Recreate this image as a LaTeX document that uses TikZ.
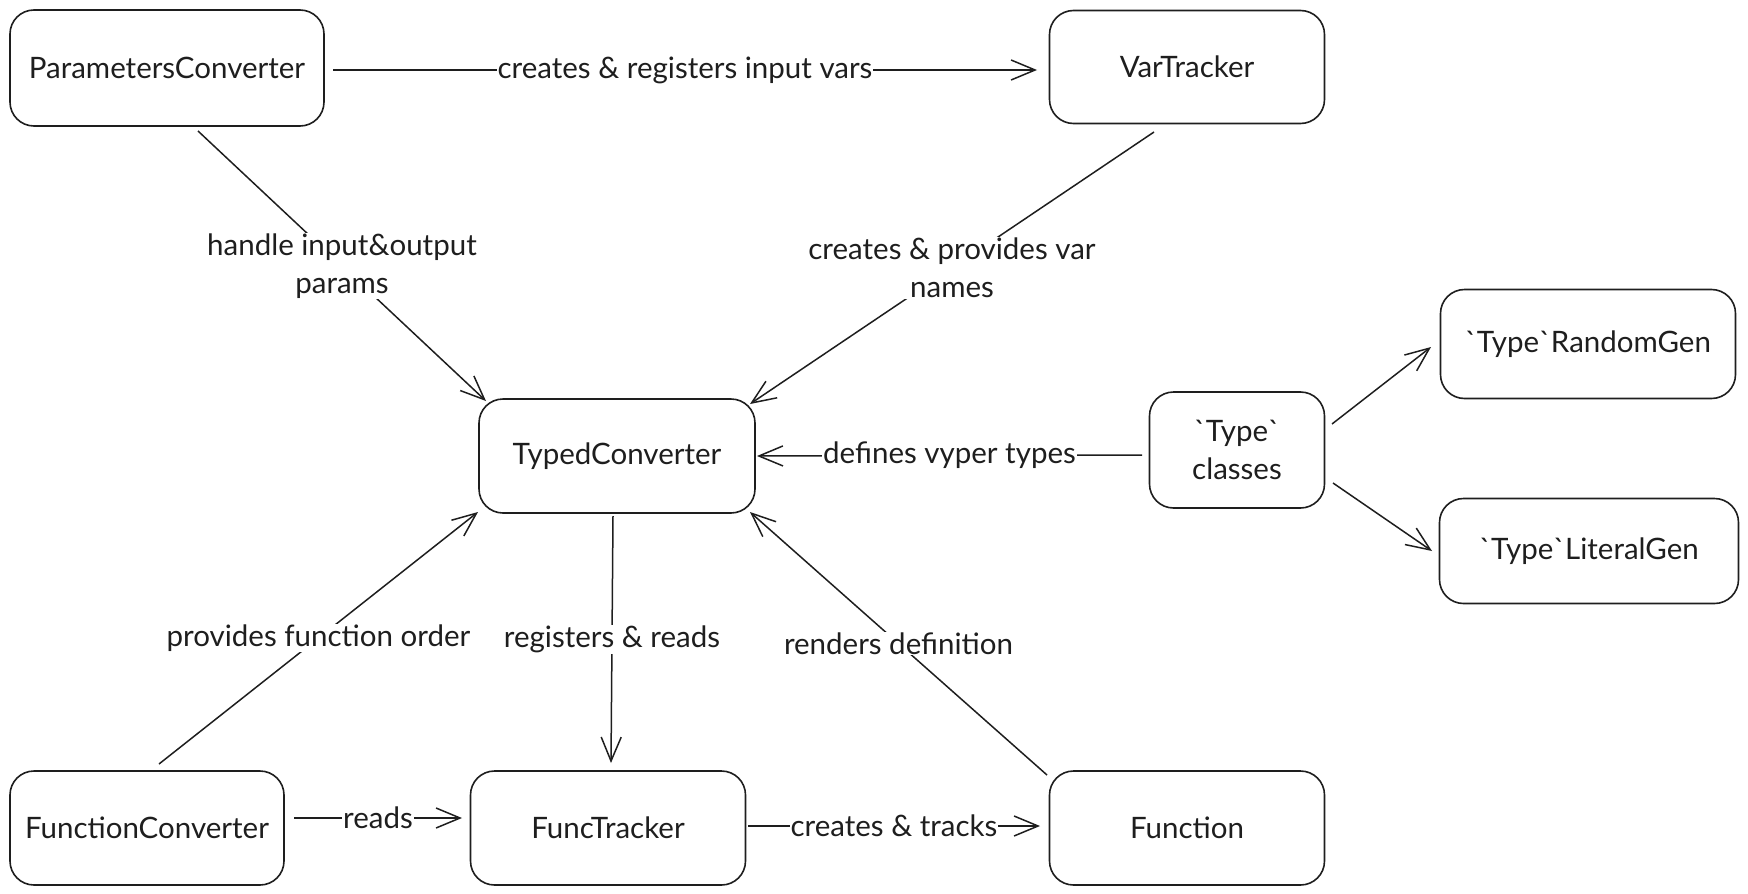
\documentclass[tikz,border=0pt]{standalone}
\usepackage{fontspec}
\setmainfont{Lato}
\usetikzlibrary{arrows.meta}
\definecolor{inkgray}{RGB}{30,30,30}
\newcommand{\bq}{\textasciigrave}

\begin{document}
\begin{tikzpicture}[x=1pt, y=-1pt,
    block/.style={draw=inkgray, line width=1.6pt, rounded corners=24pt, align=center, font=\fontsize{29.5}{38}\selectfont, text=inkgray},
    flow/.style={draw=inkgray, line width=1.5pt, -{Straight Barb[length=24pt,width=20pt,line width=1.5pt]}},
    lbl/.style={midway, fill=white, inner sep=1pt, align=center, font=\fontsize{29.5}{38}\selectfont, text=inkgray}]
                \useasboundingbox (0,0) rectangle (1748,894);

                % Converters and trackers
                \node[block, minimum width=314pt, minimum height=116pt] (pc) at (167,68) {ParametersConverter};
                \node[block, minimum width=275pt, minimum height=113pt] (vt) at (1187,67) {VarTracker};
                \node[block, minimum width=276pt, minimum height=114pt] (tc) at (617,456) {TypedConverter};
                \node[block, minimum width=175pt, minimum height=116pt] (tcls) at (1237,450) {\bq Type\bq\\classes};
                \node[block, minimum width=295pt, minimum height=109pt] (rg) at (1588,344) {\bq Type\bq RandomGen};
                \node[block, minimum width=299pt, minimum height=105pt] (lg) at (1589,551) {\bq Type\bq LiteralGen};
                \node[block, minimum width=274pt, minimum height=114pt] (fc) at (147,828) {FunctionConverter};
                \node[block, minimum width=275pt, minimum height=114pt] (ft) at (608,828) {FuncTracker};
                \node[block, minimum width=275pt, minimum height=114pt] (fn) at (1187,828) {Function};

                % Connections
                \draw[flow] ([shift={(166,2)}]pc.center) -- ([shift={(-150,3)}]vt.center) node[lbl] {creates \& registers input vars};
                \draw[flow] ([shift={(31,63)}]pc.center) -- ([shift={(-131,-55)}]tc.center) node[lbl] {handle input\&output\\params};
                \draw[flow] ([shift={(-33,65)}]vt.center) -- ([shift={(133,-52)}]tc.center) node[lbl] {creates \& provides var\\names};
                \draw[flow] ([shift={(-95,5)}]tcls.center) -- ([shift={(140,0)}]tc.center) node[lbl] {defines vyper types};
                \draw[flow] ([shift={(95,-26)}]tcls.center) -- ([shift={(-157,3)}]rg.center);
                \draw[flow] ([shift={(96,33)}]tcls.center) -- ([shift={(-157,0)}]lg.center);
                \draw[flow] ([shift={(12,-64)}]fc.center) -- ([shift={(-139,56)}]tc.center) node[lbl] {provides function order};
                \draw[flow] ([shift={(-4,60)}]tc.center) -- ([shift={(3,-65)}]ft.center) node[lbl] {registers \& reads};
                \draw[flow] ([shift={(-140,-53)}]fn.center) -- ([shift={(133,56)}]tc.center) node[lbl] {renders definition};
                \draw[flow] ([shift={(147,-10)}]fc.center) -- ([shift={(-146,-10)}]ft.center) node[lbl] {reads};
                \draw[flow] ([shift={(140,-2)}]ft.center) -- ([shift={(-147,-2)}]fn.center) node[lbl] {creates \& tracks};
            \end{tikzpicture}
\end{document}
